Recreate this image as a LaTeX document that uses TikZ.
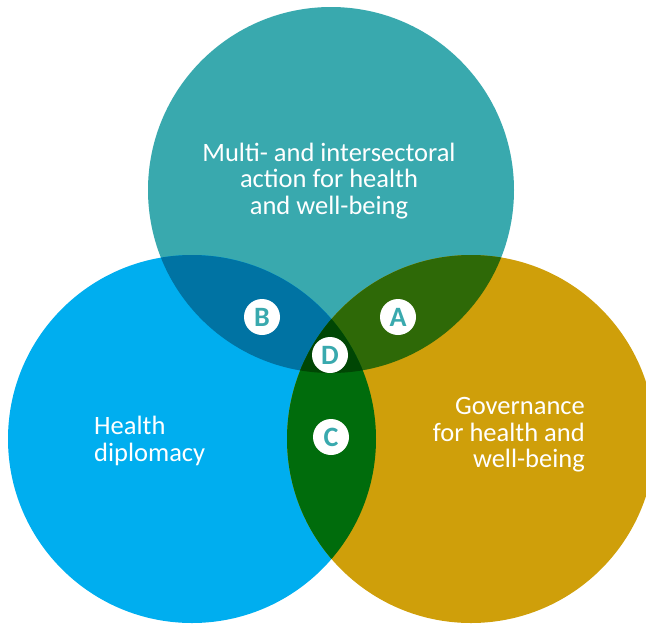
\documentclass[tikz,border=0pt]{standalone}
\usepackage{fontspec}
\setmainfont{Carlito}
\definecolor{cTeal}{RGB}{57,169,174}
\definecolor{cBlue}{RGB}{0,174,239}
\definecolor{cGold}{RGB}{207,159,10}
\definecolor{cA}{RGB}{46,105,7}
\definecolor{cB}{RGB}{0,115,163}
\definecolor{cC}{RGB}{0,108,12}
\definecolor{cD}{RGB}{0,70,4}
\begin{document}
\begin{tikzpicture}[x=1pt,y=-1pt,
  lbl/.style={circle,fill=white,minimum size=36pt,inner sep=0pt,
    text=cTeal,font=\fontsize{28}{28}\selectfont\bfseries},
  maintext/.style={text=white,inner sep=0pt,font=\fontsize{26.5}{26.5}\selectfont}]
\useasboundingbox (0,0) rectangle (646,625);
\clip (0,0) rectangle (646,625);
\coordinate (T) at (331,190);
\coordinate (L) at (192,439);
\coordinate (R) at (471,439);
\def\rT{183}\def\rL{184}\def\rR{184}
% base circles
\fill[cTeal] (T) circle (\rT);
\fill[cBlue] (L) circle (\rL);
\fill[cGold] (R) circle (\rR);
% pairwise overlaps
\begin{scope}\clip (T) circle (\rT); \fill[cB] (L) circle (\rL);\end{scope}
\begin{scope}\clip (T) circle (\rT); \fill[cA] (R) circle (\rR);\end{scope}
\begin{scope}\clip (L) circle (\rL); \fill[cC] (R) circle (\rR);\end{scope}
\begin{scope}\clip (T) circle (\rT); \clip (L) circle (\rL); \fill[cD] (R) circle (\rR);\end{scope}
% texts
\node[maintext,align=center] (tmulti) at (329,181) {Multi- and intersectoral\\action for health\\and well-being};
\node[maintext,align=left,anchor=west] (thealth) at (94,441) {Health\\diplomacy};
\node[maintext,align=right,anchor=east] (tgov) at (585,435) {Governance\\for health and\\well-being};
% letter labels
\node[lbl] (A) at (398,317) {A};
\node[lbl] (B) at (262,317) {B};
\node[lbl] (D) at (330,355) {D};
\node[lbl] (C) at (331,437) {C};
\end{tikzpicture}
\end{document}
